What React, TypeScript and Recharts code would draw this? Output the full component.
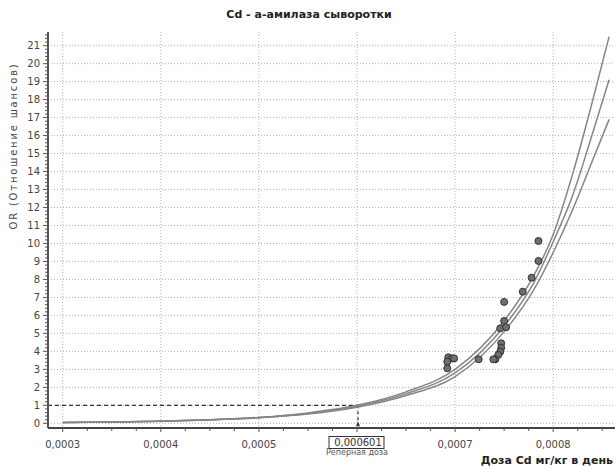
import React from "react";
import {
  ComposedChart,
  Line,
  Scatter,
  XAxis,
  YAxis,
  CartesianGrid,
  ReferenceLine,
  ReferenceDot,
} from "recharts";

// fitted curves
const doseCurve = [0.0003, 0.00035, 0.0004, 0.00045, 0.0005, 0.00055, 0.0006, 0.00065, 0.0007, 0.00075, 0.00078, 0.0008, 0.00082, 0.00084, 0.000857];
const orUpper = [0.04, 0.07, 0.12, 0.2, 0.33, 0.58, 1.0, 1.75, 3.0, 5.7, 8.2, 10.5, 13.9, 17.9, 21.5];
const orMiddle = [0.04, 0.07, 0.12, 0.2, 0.32, 0.55, 0.95, 1.65, 2.8, 5.4, 7.8, 10.1, 12.7, 16.1, 19.1];
const orLower = [0.04, 0.07, 0.11, 0.19, 0.31, 0.52, 0.9, 1.55, 2.6, 5.1, 7.4, 9.5, 11.9, 14.6, 16.9];

// observed points
const doseObs = [0.000785, 0.000785, 0.000778, 0.000769, 0.00075, 0.00075, 0.000746, 0.000752, 0.000747, 0.000747, 0.000746, 0.000744, 0.000741, 0.000739, 0.000724, 0.000693, 0.000697, 0.000699, 0.000692, 0.000692];
const orObs = [10.14, 9.03, 8.1, 7.32, 6.75, 5.69, 5.28, 5.34, 4.45, 4.2, 3.98, 3.8, 3.56, 3.56, 3.56, 3.67, 3.61, 3.61, 3.43, 3.06];

const refDose = 0.000601;
const refOR = 1;

const xMajor = [0.0003, 0.0004, 0.0005, 0.0006, 0.0007, 0.0008];
const xLabels = ["0,0003", "0,0004", "0,0005", "", "0,0007", "0,0008"];
const yMajor = [0, 1, 2, 3, 4, 5, 6, 7, 8, 9, 10, 11, 12, 13, 14, 15, 16, 17, 18, 19, 20, 21];

const xMin = 0.000285;
const xMax = 0.000863;
const yMin = -0.26;
const yMax = 21.76;

const curveData = doseCurve.map((x, i) => ({ x, upper: orUpper[i], middle: orMiddle[i], lower: orLower[i] }));
const obsData = doseObs.map((x, i) => ({ x, y: orObs[i] }));

const xTicks: number[] = [];
for (let i = 0; i <= 22; i++) xTicks.push(+(0.0003 + i * 0.000025).toFixed(7));
xTicks.push(refDose);
const yTicks: number[] = [];
for (let i = 0; i <= 108; i++) yTicks.push(+(i * 0.2).toFixed(1));

const font = "'DejaVu Sans', sans-serif";

const XTick = (props: any) => {
  const { x, y, payload } = props;
  const v = payload.value;
  if (Math.abs(v - refDose) < 1e-9) {
    return (
      <g>
        <rect x={x - 29} y={y + 8.5} width={55} height={12} fill="#fff" stroke="#333" strokeWidth={1} />
        <text x={x} y={y + 18} textAnchor="middle" fontSize={10} fontFamily={font} fill="#333">
          0,000601
        </text>
      </g>
    );
  }
  const idx = xMajor.findIndex((m) => Math.abs(m - v) < 1e-9);
  return (
    <g>
      <line x1={x} x2={x} y1={y} y2={y + (idx >= 0 ? 4 : 3)} stroke="#555" />
      {idx >= 0 && xLabels[idx] && (
        <text x={x} y={y + 20} textAnchor="middle" fontSize={10} fontFamily={font} fill="#444">
          {xLabels[idx]}
        </text>
      )}
    </g>
  );
};

const YTick = (props: any) => {
  const { x, y, payload } = props;
  const v = payload.value;
  const major = Math.abs(v - Math.round(v)) < 1e-6;
  return (
    <g>
      <line x1={x - (major ? 5 : 3)} x2={x} y1={y} y2={y} stroke="#555" />
      {major && (
        <text x={x - 8} y={y} dy={3.5} textAnchor="end" fontSize={10} fontFamily={font} fill="#444">
          {Math.round(v)}
        </text>
      )}
    </g>
  );
};

const ObsDot = (props: any) => {
  const { cx, cy } = props;
  return <circle cx={cx} cy={cy} r={3.5} fill="#6e6e6e" stroke="#333" strokeWidth={1} />;
};

const Arrow = (props: any) => {
  const { cx, cy } = props;
  return <polygon points={`${cx - 2},${cy + 3} ${cx + 2},${cy + 3} ${cx},${cy - 2}`} fill="#333" />;
};

export default function App() {
  return (
    <div style={{ position: "absolute", left: 0, top: 0, width: 615, height: 466, background: "#fff", overflow: "hidden" }}>
      <div
        style={{
          position: "absolute",
          left: 0,
          width: 618,
          top: 8,
          textAlign: "center",
          fontFamily: font,
          fontWeight: "bold",
          fontSize: 11,
          color: "#222",
        }}
      >
        Cd - а-амилаза сыворотки
      </div>
      <div
        style={{
          position: "absolute",
          left: 13,
          top: 146,
          transform: "translate(-50%, -50%) rotate(-90deg)",
          whiteSpace: "nowrap",
          fontFamily: font,
          fontSize: 10,
          letterSpacing: 1.8,
          color: "#444",
        }}
      >
        OR (Отношение шансов)
      </div>
      <div
        style={{
          position: "absolute",
          left: 357,
          top: 448,
          transform: "translateX(-50%)",
          whiteSpace: "nowrap",
          fontFamily: font,
          fontSize: 8,
          color: "#555",
        }}
      >
        Реперная доза
      </div>
      <div
        style={{
          position: "absolute",
          right: 2,
          top: 454,
          whiteSpace: "nowrap",
          fontFamily: font,
          fontWeight: "bold",
          fontSize: 11,
          color: "#222",
        }}
      >
        Доза Cd мг/кг в день
      </div>
      <ComposedChart width={615} height={466} data={curveData} margin={{ top: 32, right: 0, left: 0, bottom: 0 }}>
        <CartesianGrid
          stroke="#b0b0b0"
          strokeDasharray="1 2"
          verticalValues={xMajor}
          horizontalValues={yMajor}
        />
        <XAxis
          type="number"
          dataKey="x"
          domain={[xMin, xMax]}
          allowDataOverflow
          ticks={xTicks}
          interval={0}
          height={38}
          tickSize={0}
          tickMargin={0}
          tick={<XTick />}
          axisLine={{ stroke: "#444", strokeWidth: 2 }}
        />
        <YAxis
          type="number"
          domain={[yMin, yMax]}
          allowDataOverflow
          ticks={yTicks}
          interval={0}
          width={48}
          tickSize={0}
          tickMargin={0}
          tick={<YTick />}
          axisLine={{ stroke: "#555", strokeWidth: 2 }}
        />
        <ReferenceLine
          segment={[
            { x: xMin, y: refOR },
            { x: refDose, y: refOR },
          ]}
          stroke="#333"
          strokeDasharray="4 3"
          strokeWidth={1.2}
        />
        <ReferenceLine
          segment={[
            { x: refDose, y: refOR },
            { x: refDose, y: 0 },
          ]}
          stroke="#333"
          strokeDasharray="3 3"
          strokeWidth={1.2}
        />
        <ReferenceDot x={refDose} y={0} shape={<Arrow />} />
        <Line type="monotone" dataKey="lower" stroke="#858585" strokeWidth={1.5} dot={false} isAnimationActive={false} />
        <Line type="monotone" dataKey="middle" stroke="#858585" strokeWidth={1.5} dot={false} isAnimationActive={false} />
        <Line type="monotone" dataKey="upper" stroke="#858585" strokeWidth={1.5} dot={false} isAnimationActive={false} />
        <Scatter data={obsData} dataKey="y" shape={<ObsDot />} isAnimationActive={false} />
      </ComposedChart>
    </div>
  );
}
